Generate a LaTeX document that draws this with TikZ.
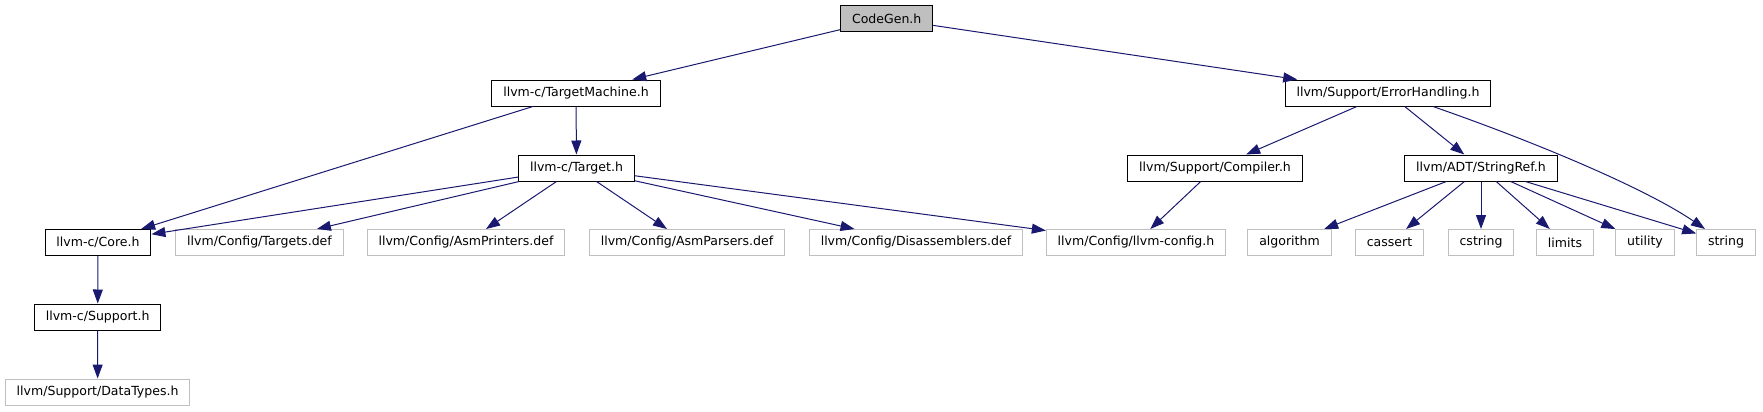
\documentclass[tikz,border=0pt]{standalone}
\usepackage{fontspec}
\setmainfont{DejaVu Sans}
\usepackage{tikz}
\usetikzlibrary{arrows.meta,calc}
\definecolor{edgeblue}{HTML}{191970}
\definecolor{boxgrey}{HTML}{BFBFBF}

\begin{document}
\begin{tikzpicture}[
  x=0.75pt, y=-0.75pt,
  file/.style={rectangle, draw=black, fill=white, line width=0.75pt, minimum height=19.5pt, inner xsep=8.5pt, inner ysep=0pt, font=\fontsize{9.4}{11}\selectfont},
  sysfile/.style={file, draw=boxgrey},
  root/.style={file, fill=boxgrey},
  dep/.style={->, >={Triangle[length=10.5pt, width=7.5pt]}, draw=edgeblue, line width=0.75pt}
]
  \useasboundingbox (0,0) rectangle (1763,411);
  % Root header (top)
  \node[root] (codegen) at (886.7, 18.5) {CodeGen.h};
  % Direct includes
  \node[file] (tmachine) at (576, 93) {llvm-c/TargetMachine.h};
  \node[file] (errhand)  at (1388, 93) {llvm/Support/ErrorHandling.h};
  % Second level
  \node[file] (target)    at (576.5, 168) {llvm-c/Target.h};
  \node[file] (compiler)  at (1215, 168) {llvm/Support/Compiler.h};
  \node[file] (stringref) at (1481, 168) {llvm/ADT/StringRef.h};
  % Third level
  \node[file]    (core)        at (98, 242.5)   {llvm-c/Core.h};
  \node[sysfile] (targetsdef)  at (259.5, 242.5) {llvm/Config/Targets.def};
  \node[sysfile] (asmprinters) at (466, 242.5)  {llvm/Config/AsmPrinters.def};
  \node[sysfile] (asmparsers)  at (687, 242.5)  {llvm/Config/AsmParsers.def};
  \node[sysfile] (disasm)      at (916, 242.5)  {llvm/Config/Disassemblers.def};
  \node[sysfile] (llvmconfig)  at (1136, 242.5) {llvm/Config/llvm-config.h};
  \node[sysfile] (algorithm)   at (1289.5, 242.5) {algorithm};
  \node[sysfile] (cassert)     at (1389.5, 242.5) {cassert};
  \node[sysfile] (cstring)     at (1481, 242.5) {cstring};
  \node[sysfile] (limits)      at (1565, 242.5) {limits};
  \node[sysfile] (utility)     at (1645, 242.5) {utility};
  \node[sysfile] (string)      at (1726, 242.5) {string};
  % Core chain (bottom left)
  \node[file]    (support)   at (97.7, 317) {llvm-c/Support.h};
  \node[sysfile] (datatypes) at (97.6, 392) {llvm/Support/DataTypes.h};
  % Edges from the root
  \draw[dep] (codegen) -- (tmachine);
  \draw[dep] (codegen) -- (errhand);
  % TargetMachine side
  \draw[dep] (tmachine) -- (target);
  \draw[dep] (tmachine) -- (core);
  \draw[dep] (target) -- (core);
  \draw[dep] (target) -- (targetsdef);
  \draw[dep] (target) -- (asmprinters);
  \draw[dep] (target) -- (asmparsers);
  \draw[dep] (target) -- (disasm);
  \draw[dep] (target) -- (llvmconfig);
  \draw[dep] (core) -- (support);
  \draw[dep] (support) -- (datatypes);
  % ErrorHandling side
  \draw[dep] (errhand) -- (compiler);
  \draw[dep] (errhand) -- (stringref);
  \draw[dep] ($(errhand.south)+(45,0)$) .. controls (1535,142) and (1645,188) .. ($(string.north)+(-21,0)$);
  \draw[dep] (compiler) -- (llvmconfig);
  \draw[dep] (stringref) -- (algorithm);
  \draw[dep] (stringref) -- (cassert);
  \draw[dep] (stringref) -- (cstring);
  \draw[dep] (stringref) -- (limits);
  \draw[dep] (stringref) -- (utility);
  \draw[dep] (stringref) -- (string);
\end{tikzpicture}
\end{document}
